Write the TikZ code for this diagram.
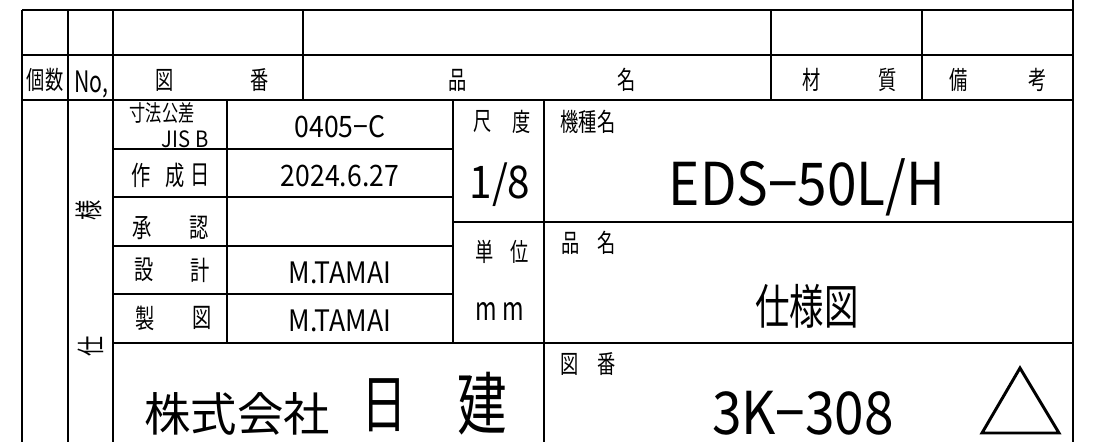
\documentclass[tikz,border=0pt]{standalone}
\usepackage{fontspec}
\setmainfont{Noto Sans CJK JP}
\newfontfamily\cadnarrow[FakeStretch=0.72]{Noto Sans CJK JP}
\newfontfamily\cadmid[FakeStretch=0.9]{Noto Sans CJK JP}

\tikzset{
  heavy/.style={line width=2.1pt},
  light/.style={line width=1.4pt},
  hdr/.style={inner sep=0pt,font=\cadnarrow\fontsize{18}{18}\selectfont},
  lbl/.style={inner sep=0pt,font=\cadnarrow\fontsize{19}{19}\selectfont},
  val/.style={inner sep=0pt,anchor=base,font=\cadmid\fontsize{21}{21}\selectfont},
}

\begin{document}
\begin{tikzpicture}[x=0.025cm,y=-0.025cm]
  \useasboundingbox (0,0) rectangle (1097,442);

  % outer lines and parts list
  \draw[light] (22,10) -- (1073,10);
  \draw[heavy] (22,10) -- (22,442);
  \draw[heavy] (1073,0) -- (1073,442);
  \draw[heavy] (22,55) -- (1073,55);
  \draw[heavy] (22,100) -- (1073,100);
  \draw[light] (68,10) -- (68,442);
  \draw[light] (113,10) -- (113,100);
  \draw[light] (303,10) -- (303,100);
  \draw[light] (771,10) -- (771,100);
  \draw[light] (922,10) -- (922,100);

  % title block
  \draw[heavy] (113,100) -- (113,442);
  \draw[heavy] (227,100) -- (227,343);
  \draw[heavy] (453,100) -- (453,343);
  \draw[heavy] (544,100) -- (544,442);
  \foreach \y in {149,197,246,294}
    \draw[heavy] (113,\y) -- (453,\y);
  \draw[heavy] (453,222) -- (1073,222);
  \draw[heavy] (113,343) -- (1073,343);

  % header row
  \node[hdr] (kosu) at (45,80) {個数};
  \node[hdr,anchor=base,font=\cadnarrow\fontsize{21}{21}\selectfont] (no) at (91,92) {No,};
  \node[hdr] (zu) at (165,80) {図};
  \node[hdr] (ban) at (260,80) {番};
  \node[hdr] (hin) at (458,80) {品};
  \node[hdr] (mei) at (627,80) {名};
  \node[hdr] (zai) at (812,80) {材};
  \node[hdr] (shitsu) at (888,80) {質};
  \node[hdr] (bi) at (959,80) {備};
  \node[hdr] (kou) at (1038,80) {考};
  \node[hdr,rotate=90,font=\cadnarrow\fontsize{20}{20}\selectfont] (shi) at (91,346) {仕};
  \node[hdr,rotate=90,font=\cadnarrow\fontsize{20}{20}\selectfont] (you) at (89,210) {様};

  % left labels
  \node[lbl,font=\cadnarrow\fontsize{16}{16}\selectfont] (sunpo) at (162,113) {寸法公差};
  \node[val,font=\cadmid\fontsize{16}{16}\selectfont] (jis) at (185,147) {JIS B};
  \node[lbl] (saku) at (141,175) {作};
  \node[lbl] (sei) at (175,175) {成};
  \node[lbl] (hi) at (200,175) {日};
  \node[lbl] (shou) at (142,228) {承};
  \node[lbl] (nin) at (199,228) {認};
  \node[lbl] (setsu) at (144,270) {設};
  \node[lbl] (kei) at (200,270) {計};
  \node[lbl] (sei2) at (145,318) {製};
  \node[lbl] (zu2) at (202,318) {図};

  % values
  \node[val] (tol) at (340,137) {0405−C};
  \node[val] (date) at (340,186) {2024.6.27};
  \node[val] (design) at (340,283) {M.TAMAI};
  \node[val] (drawn) at (340,331) {M.TAMAI};

  % scale and unit
  \node[hdr] (shaku) at (483,122) {尺};
  \node[hdr] (do) at (522,122) {度};
  \node[val,font=\cadmid\fontsize{32}{32}\selectfont] (scale) at (500,198) {1/8};
  \node[hdr] (tan) at (485,252) {単};
  \node[hdr] (i) at (520,252) {位};
  \node[val,font=\cadnarrow\fontsize{23}{23}\selectfont] (unit) at (500,320) {m m};

  % model, name, number
  \node[hdr] (kishu) at (588,122) {機種名};
  \node[val,font=\cadmid\fontsize{42}{42}\selectfont] (model) at (807,205) {EDS−50L/H};
  \node[hdr] (hin2) at (571,243) {品};
  \node[hdr] (mei2) at (607,243) {名};
  \node[hdr,font=\cadnarrow\fontsize{34}{34}\selectfont] (title) at (807,306) {仕様図};
  \node[hdr] (zu3) at (570,364) {図};
  \node[hdr] (ban3) at (607,364) {番};
  \node[val,font=\cadmid\fontsize{42}{42}\selectfont] (number) at (803,434) {3K−308};
  \draw[heavy,line join=miter] (1020,368) -- (1059,433) -- (982,433) -- cycle;

  % company
  \node[hdr,font=\fontsize{33}{33}\selectfont] (kabu) at (237,414) {株式会社};
  \node[hdr,font=\cadnarrow\fontsize{45}{45}\selectfont] (nichi) at (384,405) {日};
  \node[hdr,font=\cadnarrow\fontsize{49}{49}\selectfont] (ken) at (482,404) {建};
\end{tikzpicture}
\end{document}
